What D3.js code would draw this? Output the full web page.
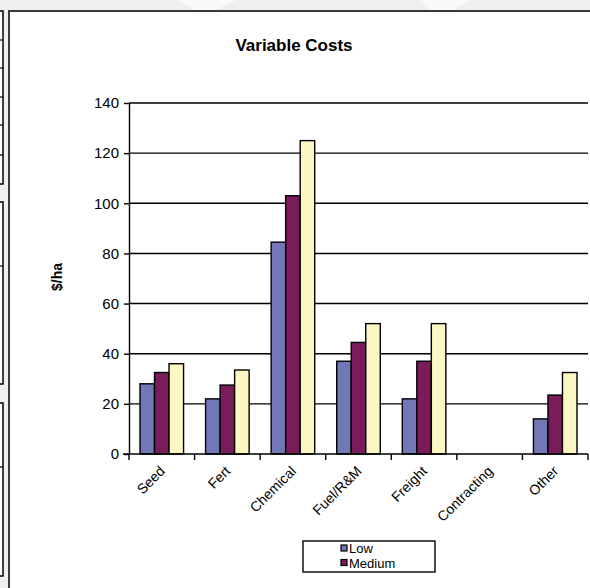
<!doctype html>
<html lang="en">
<head>
<meta charset="utf-8">
<title>Variable Costs</title>
<script src="https://d3js.org/d3.v7.min.js"></script>
<style>
  body { margin:0; background:#efefef; }
  svg { display:block; font-family:"Liberation Sans", Arial, sans-serif; }
  .grid line { stroke:#000; stroke-width:1.4; }
  .axis path, .axis line { stroke:#000; stroke-width:1.4; }
  .axis text { font-size:15px; fill:#000; }
</style>
</head>
<body>
<script>
  // data
  var categories = ["Seed", "Fert", "Chemical", "Fuel/R&M", "Freight", "Contracting", "Other"];
  var series = ["Low", "Medium", "High"];
  var low    = [28, 22, 84.5, 37, 22, 0, 14];
  var medium = [32.5, 27.5, 103, 44.5, 37, 0, 23.5];
  var high   = [36, 33.5, 125, 52, 52, 0, 32.5];
  var yTicks = [0, 20, 40, 60, 80, 100, 120, 140];
  var legendKeys = ["Low", "Medium"];

  var colors = { Low:"#7277b6", Medium:"#7a1b5a", High:"#fcf6c3" };
  var values = { Low:low, Medium:medium, High:high };

  var W = 590, H = 588;
  var plot = { left:129, right:588, top:103, bottom:454 };

  var svg = d3.select("body").append("svg")
    .attr("width", W).attr("height", H);

  // page background and panel frame
  svg.append("rect").attr("width", W).attr("height", H).attr("fill", "#efefef");
  svg.append("path")
    .attr("d", "M178,0 L236,0 L214,11 L196,11 Z M420,0 L470,0 L452,11 L432,11 Z")
    .attr("fill", "#fafafa");
  svg.append("rect")
    .attr("x", 9).attr("y", 11).attr("width", W + 20).attr("height", H + 20)
    .attr("fill", "#fff").attr("stroke", "#3a3a3a").attr("stroke-width", 2);

  // bits of neighbouring boxes at far left
  var sideBoxes = [[11, 184], [202, 384], [403, 576]];
  var sideLines = [40, 68, 97, 125, 155, 266, 467];
  svg.selectAll(".sidebox").data(sideBoxes).enter().append("rect")
    .attr("x", -6).attr("y", d => d[0]).attr("width", 9).attr("height", d => d[1] - d[0])
    .attr("fill", "#fff").attr("stroke", "#000").attr("stroke-width", 1.5);
  svg.selectAll(".sideline").data(sideLines).enter().append("line")
    .attr("x1", 0).attr("x2", 3).attr("y1", d => d).attr("y2", d => d)
    .attr("stroke", "#000").attr("stroke-width", 1.2);

  var x0 = d3.scaleBand().domain(categories).range([plot.left, plot.right]).padding(0);
  var x1 = d3.scaleBand().domain(series).range([11, x0.bandwidth() - 11]).padding(0);
  var y = d3.scaleLinear().domain([0, 140]).range([plot.bottom, plot.top]);

  // gridlines
  svg.append("g").attr("class", "grid")
    .selectAll("line").data(yTicks.slice(1)).enter().append("line")
    .attr("x1", plot.left).attr("x2", plot.right)
    .attr("y1", d => y(d)).attr("y2", d => y(d));

  // bars
  var groups = svg.selectAll(".cat").data(categories).enter().append("g")
    .attr("transform", d => "translate(" + x0(d) + ",0)");
  groups.selectAll("rect")
    .data((c, i) => series.map(s => ({ s:s, v:values[s][i] })).filter(d => d.v > 0))
    .enter().append("rect")
    .attr("x", d => x1(d.s))
    .attr("width", x1.bandwidth())
    .attr("y", d => y(d.v))
    .attr("height", d => y(0) - y(d.v))
    .attr("fill", d => colors[d.s])
    .attr("stroke", "#000").attr("stroke-width", 1.4);

  // y axis
  svg.append("g").attr("class", "axis")
    .attr("transform", "translate(" + plot.left + ",0)")
    .call(d3.axisLeft(y).tickValues(yTicks).tickSize(5).tickPadding(5).tickSizeOuter(0));

  // x axis with ticks at band edges
  var xa = svg.append("g").attr("class", "axis");
  xa.append("line")
    .attr("x1", plot.left - 6).attr("x2", plot.right)
    .attr("y1", plot.bottom).attr("y2", plot.bottom);
  xa.selectAll(".tk").data(categories.concat(["end"])).enter().append("line")
    .attr("x1", (d, i) => plot.left + i * x0.step())
    .attr("x2", (d, i) => plot.left + i * x0.step())
    .attr("y1", plot.bottom).attr("y2", plot.bottom + 6);
  xa.selectAll(".lbl").data(categories).enter().append("text")
    .attr("text-anchor", "end")
    .style("font-size", "14px")
    .attr("transform", d => "translate(" + (x0(d) + x0.bandwidth() / 2 + 4) + "," + (plot.bottom + 18) + ") rotate(-45)")
    .text(d => d);

  // title and axis label
  svg.append("text").attr("x", 294).attr("y", 51)
    .attr("text-anchor", "middle").style("font-size", "17px").style("font-weight", "bold")
    .text("Variable Costs");
  svg.append("text")
    .attr("transform", "translate(62,277) rotate(-90)")
    .attr("text-anchor", "middle").style("font-size", "14px").style("font-weight", "bold")
    .text("$/ha");

  // legend
  var lg = svg.append("g");
  lg.append("rect").attr("x", 303).attr("y", 541).attr("width", 132).attr("height", 31)
    .attr("fill", "#fff").attr("stroke", "#000").attr("stroke-width", 1.4);
  var items = lg.selectAll(".item").data(legendKeys).enter().append("g")
    .attr("transform", (d, i) => "translate(341," + (545 + i * 14.5) + ")");
  items.append("rect").attr("width", 6).attr("height", 6)
    .attr("fill", d => colors[d]).attr("stroke", "#000").attr("stroke-width", 1.2);
  items.append("text").attr("x", 8).attr("y", 8)
    .style("font-size", "13px").text(d => d);
</script>
</body>
</html>
